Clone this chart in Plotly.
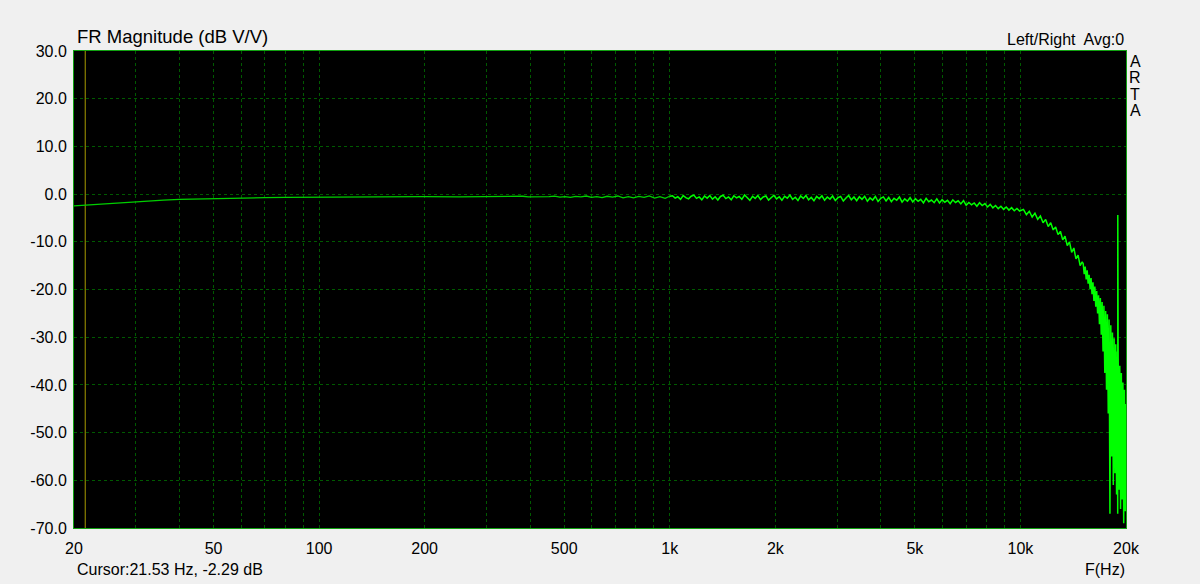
import plotly.graph_objects as go

# ---------------- data ----------------
# low frequency (smooth)
freq_low = [20, 21.53, 23, 25, 28, 32, 36, 40, 45, 50, 60, 70, 80, 100, 120, 150, 200, 250]
db_low = [-2.45, -2.29, -2.1, -1.95, -1.7, -1.45, -1.25, -1.1, -1.0, -0.9, -0.8, -0.75, -0.7,
          -0.65, -0.6, -0.6, -0.55, -0.6]

# mid band 300 Hz .. 1 kHz (slight noise)
freq_mid1 = [300, 310, 320, 332, 344, 356, 368, 381, 395, 409, 423, 438, 453, 469, 486, 503, 521,
             539, 558, 578, 598, 619, 641, 663, 687, 711, 736, 762, 788, 816, 845, 874, 905, 937,
             970, 1000]
db_mid1 = [-0.55, -0.5, -0.6, -0.55, -0.62, -0.5, -0.55, -0.45, -0.6, -0.58, -0.66, -0.5, -0.55,
           -0.42, -0.64, -0.52, -0.7, -0.48, -0.58, -0.4, -0.68, -0.55, -0.75, -0.45, -0.62, -0.4,
           -0.78, -0.55, -0.8, -0.5, -0.7, -0.38, -0.82, -0.52, -0.9, -0.45]

# 1 kHz .. 10 kHz (noisy, slowly drooping)
freq_mid2 = [1018, 1036, 1054, 1073, 1092, 1111, 1131, 1151, 1171, 1192,
             1213, 1234, 1256, 1278, 1301, 1324, 1347, 1371, 1395, 1420,
             1445, 1471, 1497, 1523, 1550, 1577, 1605, 1634, 1663, 1692,
             1722, 1752, 1783, 1815, 1847, 1880, 1913, 1947, 1981, 2016,
             2052, 2088, 2125, 2163, 2201, 2240, 2280, 2320, 2361, 2403,
             2445, 2488, 2532, 2577, 2623, 2669, 2716, 2764, 2813, 2863,
             2914, 2965, 3018, 3071, 3125, 3181, 3237, 3294, 3352, 3412,
             3472, 3533, 3596, 3660, 3724, 3790, 3857, 3926, 3995, 4066,
             4138, 4211, 4285, 4361, 4438, 4517, 4597, 4678, 4761, 4845,
             4931, 5018, 5107, 5197, 5289, 5383, 5478, 5575, 5674, 5774,
             5876, 5980, 6086, 6194, 6303, 6415, 6528, 6644, 6761, 6881,
             7003, 7127, 7253, 7381, 7512, 7645, 7780, 7918, 8058, 8200,
             8345, 8493, 8643, 8796, 8952, 9110, 9272, 9436, 9603, 9773,
             9946]
db_mid2 = [-0.35, -0.85, -0.55, -1.1, -0.3, -0.75, -1.0, -0.45, -0.2, -0.9,
           -0.6, -1.2, -0.4, -0.85, -0.3, -1.05, -0.55, -1.25, -0.5, -0.25,
           -0.95, -0.6, -1.2, -0.35, -0.8, -0.5, -1.1, -0.2, -0.75, -1.3,
           -0.45, -0.9, -0.3, -1.15, -0.6, -0.4, -1.25, -0.7, -0.25, -1.0,
           -0.55, -1.3, -0.45, -0.85, -0.2, -1.1, -0.65, -1.35, -0.4, -0.9,
           -0.3, -1.2, -0.7, -1.4, -0.5, -0.95, -0.35, -1.3, -0.6, -1.05,
           -0.4, -1.35, -0.75, -0.5, -1.45, -0.8, -0.3, -1.2, -0.6, -1.4,
           -0.55, -1.1, -0.45, -1.5, -0.8, -1.25, -0.5, -1.55, -0.9, -0.6,
           -1.45, -0.7, -1.6, -0.9, -1.3, -0.6, -1.7, -1.0, -1.5, -0.75,
           -1.65, -0.95, -1.5, -1.1, -1.85, -0.9, -1.6, -1.25, -1.8, -1.0,
           -1.85, -1.15, -1.7, -1.3, -2.0, -1.2, -1.75, -1.4, -2.05, -1.35,
           -2.35, -1.75, -2.25, -1.85, -2.55, -1.8, -2.4, -2.0, -2.7, -2.15,
           -2.9, -2.4, -3.05, -2.55, -3.2, -2.7, -3.35, -2.85, -3.5, -3.0,
           -3.55]

# 10 kHz .. 15 kHz (roll-off)
freq_hi1 = [10200, 10400, 10600, 10800, 11000, 11200, 11400, 11600, 11800, 12000, 12200, 12400,
            12600, 12800, 13000, 13200, 13400, 13600, 13800, 14000, 14200, 14400, 14600, 14800,
            15000]
db_hi1 = [-3.2, -4.3, -3.6, -4.8, -4.0, -5.3, -4.6, -6.0, -5.3, -6.8, -6.0, -7.5, -6.9, -8.5,
          -7.8, -9.6, -8.8, -10.8, -10.0, -12.2, -11.3, -13.6, -12.8, -15.0, -14.2]

# 15 kHz .. 20 kHz (steep roll-off, wide noise band, tone spike near 18.95 kHz)
freq_hi2 = [15100, 15200, 15300, 15400, 15500, 15600, 15700, 15800, 15900, 16000, 16100, 16200,
            16300, 16400, 16500, 16600, 16700, 16800, 16900, 17000, 17100, 17200, 17300, 17400,
            17500, 17600, 17700, 17800, 17900, 18000, 18100, 18200, 18300, 18400, 18500, 18600,
            18700, 18800, 18900, 18940, 18950, 18960, 19000, 19100, 19200, 19300, 19400, 19500,
            19600, 19700, 19800, 19900, 20000]
db_hi2 = [-14.6, -16.8, -15.2, -17.9, -16.0, -18.8, -16.9, -19.9, -17.6, -21.0, -18.5, -22.4,
          -19.4, -23.6, -20.3, -25.0, -21.2, -27.3, -21.8, -29.5, -22.6, -33.0, -23.4, -37.5,
          -24.5, -41.0, -25.2, -46.0, -26.3, -67.0, -27.5, -55.0, -29.0, -61.0, -30.2, -58.5,
          -31.5, -63.0, -33.0, -67.0, -4.4, -60.0, -34.5, -62.0, -36.0, -66.0, -37.5, -64.0,
          -39.5, -69.0, -41.0, -66.5, -44.0]

cursor_freq = 21.53
cursor_db = -2.29

x_tickvals = [20, 50, 100, 200, 500, 1000, 2000, 5000, 10000, 20000]
x_ticktext = ["20", "50", "100", "200", "500", "1k", "2k", "5k", "10k", "20k"]
x_minor = [30, 40, 60, 70, 80, 90, 300, 400, 600, 700, 800, 900,
           3000, 4000, 6000, 7000, 8000, 9000]
y_tickvals = [30, 20, 10, 0, -10, -20, -30, -40, -50, -60, -70]
y_ticktext = ["30.0", "20.0", "10.0", "0.0", "-10.0", "-20.0", "-30.0", "-40.0", "-50.0",
              "-60.0", "-70.0"]

# ---------------- figure ----------------
FONT = "Liberation Sans, Arial, sans-serif"
GRID = "#005a00"
BORDER = "#10a010"

fig = go.Figure()
fig.add_trace(go.Scatter(x=[cursor_freq, cursor_freq], y=[-70, 30], mode="lines",
                         line=dict(color="#a89a00", width=1), hoverinfo="skip"))
# smooth low-frequency part (thin, slightly darker green)
fig.add_trace(go.Scatter(x=freq_low + freq_mid1, y=db_low + db_mid1, mode="lines",
                         line=dict(color="#00d000", width=1.3)))
# noisy upper part
fig.add_trace(go.Scatter(x=freq_mid1[-1:] + freq_mid2 + freq_hi1 + freq_hi2,
                         y=db_mid1[-1:] + db_mid2 + db_hi1 + db_hi2, mode="lines",
                         line=dict(color="#00ff00", width=1.5)))

L, R, T, B = 74, 74, 51, 56
W, H = 1200, 584
pw, ph = W - L - R, H - T - B


def px(xp):
    return (xp - L) / pw


def py(yp):
    return (H - B - yp) / ph


fig.update_layout(
    width=W, height=H,
    margin=dict(l=L, r=R, t=T, b=B, pad=0),
    paper_bgcolor="#f0f0f0",
    plot_bgcolor="#000000",
    showlegend=False,
    font=dict(family=FONT, size=16, color="#000000"),
    xaxis=dict(
        type="log", range=[1.30103, 4.30103],
        tickvals=x_tickvals, ticktext=x_ticktext,
        showgrid=True, gridcolor=GRID, griddash="3px,3px", gridwidth=1,
        minor=dict(tickvals=x_minor, showgrid=True, gridcolor=GRID, griddash="3px,3px",
                   gridwidth=1, ticks=""),
        showline=True, linecolor=BORDER, linewidth=1, mirror=True,
        ticks="", zeroline=False, ticklabelstandoff=6,
        tickfont=dict(family=FONT, size=16, color="#000000"),
    ),
    yaxis=dict(
        range=[-70, 30], tickvals=y_tickvals, ticktext=y_ticktext,
        showgrid=True, gridcolor=GRID, griddash="3px,3px", gridwidth=1,
        showline=True, linecolor=BORDER, linewidth=1, mirror=True,
        ticks="", zeroline=False, ticklabelstandoff=3,
        tickfont=dict(family=FONT, size=16, color="#000000"),
    ),
)

ann = [
    dict(text="FR Magnitude (dB V/V)", x=px(75), y=py(37), xanchor="left", yanchor="middle",
         font=dict(size=18.5)),
    dict(text="Left/Right  Avg:0", x=px(1126), y=py(40), xanchor="right", yanchor="middle",
         font=dict(size=16)),
    dict(text="Cursor:21.53 Hz, -2.29 dB", x=px(75), y=py(569), xanchor="left",
         yanchor="middle", font=dict(size=16)),
    dict(text="F(Hz)", x=px(1127), y=py(569), xanchor="right", yanchor="middle",
         font=dict(size=16)),
]
for letter, yc in zip(["A", "R", "T", "A"], [61, 77.5, 94, 111]):
    ann.append(dict(text=letter, x=px(1135), y=py(yc), xanchor="center", yanchor="middle",
                    font=dict(size=16)))
for a in ann:
    a.update(xref="paper", yref="paper", showarrow=False)
fig.update_layout(annotations=ann)

fig.write_html(
    "out.html",
    config={"displayModeBar": False},
    post_script="document.body.style.margin='0';"
                "document.body.style.background='#f0f0f0';"
                "document.documentElement.style.overflow='hidden';",
)
